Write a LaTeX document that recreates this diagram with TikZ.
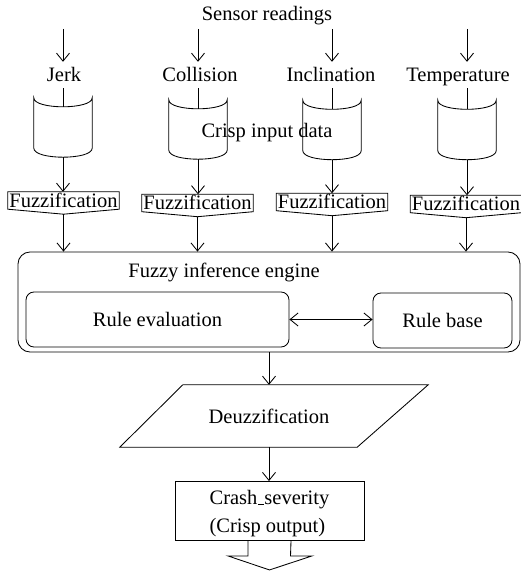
\documentclass[tikz,border=0pt]{standalone}
\usepackage{fontspec}
\setmainfont{Liberation Serif}
\usetikzlibrary{arrows.meta,calc}
\tikzset{
  line/.style={line width=0.85pt},
  base/.style={font=\fontsize{20.5}{28}\selectfont},
  lbl/.style={base, anchor=base, inner xsep=0pt, inner ysep=6pt, text height=14pt, text depth=0pt},
  arr/.style={line, -{Straight Barb[length=8pt,width=13pt]}},
  darr/.style={line, {Straight Barb[length=8pt,width=13pt]}-{Straight Barb[length=8pt,width=13pt]}},
  cylbox/.style={minimum width=58pt, minimum height=50pt, inner sep=0pt},
  fuzz/.style={base, minimum width=111pt, minimum height=17pt, inner xsep=0pt, inner ysep=1pt, text height=14pt, text depth=1pt},
  rbox/.style={base, line, draw, rounded corners=8pt, minimum height=55pt},
}
\newcommand{\drawcyl}[1]{\draw[line] (#1.north west) .. controls ([yshift=-12pt]#1.north west) and ([yshift=-12pt]#1.north east) .. (#1.north east) -- (#1.south east) .. controls ([yshift=-12pt]#1.south east) and ([yshift=-12pt]#1.south west) .. (#1.south west) -- cycle;}
\newcommand{\drawfuzz}[1]{\draw[line] (#1.north west) -- (#1.north east) -- (#1.south east) -- ([yshift=-5pt]#1.south) -- (#1.south west) -- cycle;}
\begin{document}
\begin{tikzpicture}[x=1pt,y=-1pt]
\useasboundingbox (0,0) rectangle (521,575);
% title
\node[lbl] (sr) at (267,21) {Sensor readings};
% sensor labels
\node[lbl] (jerk) at (64,82) {Jerk};
\node[lbl] (coll) at (200,82) {Collision};
\node[lbl] (incl) at (331,82) {Inclination};
\node[lbl] (temp) at (458,82) {Temperature};
\coordinate (s1) at (63,29);
\coordinate (s2) at (198,29);
\coordinate (s3) at (332,29);
\coordinate (s4) at (467,29);
\draw[arr] (s1) -- (s1 |- jerk.north);
\draw[arr] (s2) -- (s2 |- coll.north);
\draw[arr] (s3) -- (s3 |- incl.north);
\draw[arr] (s4) -- (s4 |- temp.north);
% cylinders
\node[cylbox] (c1) at (63,123) {};
\node[cylbox] (c2) at (198,125) {};
\node[cylbox] (c3) at (332,125.5) {};
\node[cylbox] (c4) at (467,125.5) {};
\drawcyl{c1}\drawcyl{c2}\drawcyl{c3}\drawcyl{c4}
\draw[line] (c1.north |- jerk.south) -- ([yshift=-9pt]c1.north);
\draw[line] (c2.north |- coll.south) -- ([yshift=-9pt]c2.north);
\draw[line] (c3.north |- incl.south) -- ([yshift=-9pt]c3.north);
\draw[line] (c4.north |- temp.south) -- ([yshift=-9pt]c4.north);
\node[lbl] (cid) at (267,137) {Crisp input data};
% fuzzification
\node[fuzz] (fz1) at (63.5,200.5) {Fuzzification};
\node[fuzz] (fz2) at (197.5,203) {Fuzzification};
\node[fuzz] (fz3) at (332,202) {Fuzzification};
\node[fuzz] (fz4) at (466,204) {Fuzzification};
\drawfuzz{fz1}\drawfuzz{fz2}\drawfuzz{fz3}\drawfuzz{fz4}
\draw[arr] ([yshift=-9pt]c1.south) -- (c1.south |- fz1.north);
\draw[arr] ([yshift=-9pt]c2.south) -- (c2.south |- fz2.north);
\draw[arr] ([yshift=-9pt]c3.south) -- (c3.south |- fz3.north);
\draw[arr] ([yshift=-9pt]c4.south) -- (c4.south |- fz4.north);
% engine
\node[line, draw, rounded corners=12pt, minimum width=502pt, minimum height=100pt] (eng) at (269,302) {};
\node[lbl] (engt) at (224,277) {Fuzzy inference engine};
\draw[arr] ([yshift=-5pt]fz1.south) -- (fz1.south |- eng.north);
\draw[arr] ([yshift=-5pt]fz2.south) -- (fz2.south |- eng.north);
\draw[arr] ([yshift=-5pt]fz3.south) -- (fz3.south |- eng.north);
\draw[arr] ([yshift=-5pt]fz4.south) -- (fz4.south |- eng.north);
\node[rbox, minimum width=263pt] (re) at (157.5,319.5) {Rule evaluation};
\node[rbox, minimum width=139pt] (rb) at (442.5,320.5) {Rule base};
\draw[darr] (re.east) -- (re.east -| rb.west);
% defuzzification
\node[base, minimum width=237pt, minimum height=62pt, inner sep=0pt] (dz) at (269,416) {Deuzzification};
\draw[line] ([xshift=32.5pt]dz.north west) -- ([xshift=40.5pt]dz.north east) -- ([xshift=-30.5pt]dz.south east) -- ([xshift=-30.5pt]dz.south west) -- cycle;
\draw[arr] (eng.south) -- (eng.south |- dz.north);
% output
\node[base, line, draw, minimum width=189pt, minimum height=58pt, align=left] (cr) at (269.5,511)
  {\rule{0pt}{20pt}Crash\kern1pt\vbox{\hrule width 6pt height 1.2pt}severity\\(Crisp output)};
\draw[arr] (dz.south) -- (dz.south |- cr.north);
\draw[line] ([xshift=-21.5pt]cr.south) -- ++(0,15) -- ++(-20,0) -- ([yshift=-29pt]cr.south) -- ++(42.5,-14) -- ++(-21.5,0) -- ([xshift=21.5pt]cr.south);
\end{tikzpicture}
\end{document}
